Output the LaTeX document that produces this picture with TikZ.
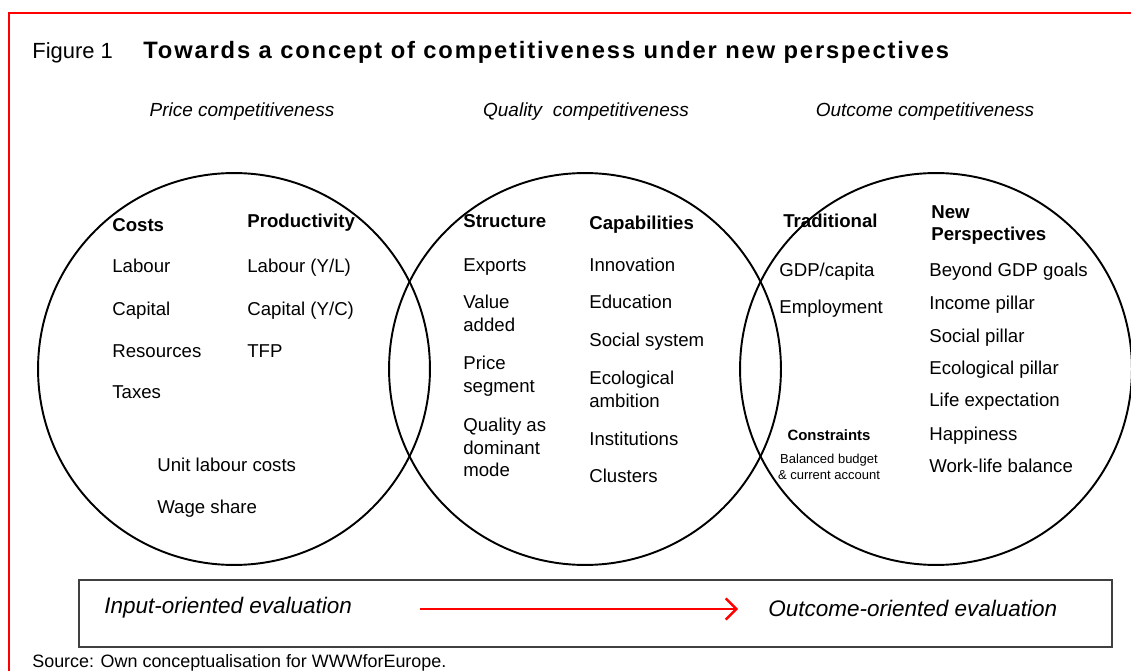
\documentclass[tikz,border=0pt]{standalone}
\usepackage{fontspec}
\setmainfont{Liberation Sans}
\usepackage{tikz}
\usetikzlibrary{arrows.meta}
\usetikzlibrary{positioning}

% one unit = one pixel of the 1131 x 671 layout
\tikzset{
	itemtext/.style={anchor=north west, inner sep=0pt, align=left, font=\fontsize{10.6}{13}\selectfont},
	headtext/.style={itemtext, font=\fontsize{10.6}{13}\selectfont\bfseries},
	perspective/.style={inner sep=0pt, font=\fontsize{10.8}{13}\selectfont\itshape},
	evaltext/.style={anchor=west, inner sep=0pt, font=\fontsize{12.8}{15}\selectfont\itshape},
	ring/.style={draw, circle, line width=1.1pt, minimum size=7.84cm, inner sep=0pt},
}

\begin{document}
\begin{tikzpicture}[x=0.02cm, y=-0.02cm]
				\useasboundingbox (0, 0) rectangle (1131, 671);
				
				% red frame
				\draw[red, line width=1.1pt] (9, 671) -- (9, 13) -- (1131, 13);
				
				% heading
				\node[anchor=base west, inner sep=0pt, font=\fontsize{12.5}{15}\selectfont] (fignum) at (32, 59) {Figure 1};
				\node[anchor=base west, inner sep=0pt, font=\fontsize{13.5}{16}\selectfont\bfseries\addfontfeatures{LetterSpace=7.8}] (figtitle) at (143, 59) {Towards a concept of competitiveness under new perspectives};
				
				\node[perspective] (pricetitle) at (242, 112) {Price competitiveness};
				\node[perspective] (qualitytitle) at (586, 112) {Quality\ \ competitiveness};
				\node[perspective] (outcometitle) at (925, 112) {Outcome competitiveness};
				
				% the three circles
				\node[ring] (pricering) at (234, 369) {};
				\node[ring] (qualityring) at (585, 369) {};
				\node[ring] (outcomering) at (936, 369) {};
				
				% price competitiveness
				\node[headtext] (costs) at (112, 218) {Costs};
				\node[headtext] (productivity) at (247, 214) {Productivity};
				\node[itemtext] (labour) at (112, 259) {Labour};
				\node[itemtext] (capital) at (112, 302) {Capital};
				\node[itemtext] (resources) at (112, 344) {Resources};
				\node[itemtext] (taxes) at (112, 385) {Taxes};
				\node[itemtext] (labourYL) at (247, 259) {Labour (Y/L)};
				\node[itemtext] (capitalYC) at (247, 302) {Capital (Y/C)};
				\node[itemtext] (tfp) at (247, 344) {TFP};
				\node[itemtext] (ulc) at (157, 458) {Unit labour costs};
				\node[itemtext] (wageshare) at (157, 500) {Wage share};
				
				% quality competitiveness
				\node[headtext] (structure) at (463, 214) {Structure};
				\node[headtext] (capabilities) at (589, 216) {Capabilities};
				\node[itemtext] (exports) at (463, 258) {Exports};
				\node[itemtext] (valueadded) at (463, 295) {Value\\added};
				\node[itemtext] (pricesegment) at (463, 356) {Price\\segment};
				\node[itemtext, font=\fontsize{10.6}{12.8}\selectfont] (qualitymode) at (463, 418) {Quality as\\dominant\\mode};
				\node[itemtext] (innovation) at (589, 258) {Innovation};
				\node[itemtext] (education) at (589, 295) {Education};
				\node[itemtext] (socialsystem) at (589, 333) {Social system};
				\node[itemtext] (ecoambition) at (589, 371) {Ecological\\ambition};
				\node[itemtext] (institutions) at (589, 432) {Institutions};
				\node[itemtext] (clusters) at (589, 469) {Clusters};
				
				% outcome competitiveness
				\node[headtext] (traditional) at (783, 214) {Traditional};
				\node[headtext] (newpersp) at (931, 205) {New\\Perspectives};
				\node[itemtext] (gdpcapita) at (779, 263) {GDP/capita};
				\node[itemtext] (employment) at (779, 300) {Employment};
				\node[itemtext] (beyondgdp) at (929, 263) {Beyond GDP goals};
				\node[itemtext] (incomepillar) at (929, 296) {Income pillar};
				\node[itemtext] (socialpillar) at (929, 329) {Social pillar};
				\node[itemtext] (ecopillar) at (929, 361) {Ecological pillar};
				\node[itemtext] (lifeexp) at (929, 393) {Life expectation};
				\node[itemtext] (happiness) at (929, 427) {Happiness};
				\node[itemtext] (worklife) at (929, 459) {Work-life balance};
				\node[inner sep=0pt, font=\fontsize{8.5}{10}\selectfont\bfseries] (constraints) at (829, 435) {Constraints};
				\node[inner sep=0pt, align=center, font=\fontsize{7.4}{9}\selectfont] (budget) at (829, 467) {Balanced budget\\\& current account};
				
				% evaluation bar
				\draw[black!75, line width=0.8pt] (79, 580) rectangle (1112, 647);
				\node[evaltext] (inputeval) at (104, 608) {Input-oriented evaluation};
				\node[evaltext] (outcomeeval) at (768, 608) {Outcome-oriented evaluation};
				\coordinate (evalstart) at (420, 609);
				\coordinate (evalend) at (738, 609);
				\draw[red, line width=1.4pt, -{Straight Barb[length=6pt, width=12pt]}] (evalstart) -- (evalend);
				
				\node[anchor=base west, inner sep=0pt, font=\fontsize{10.2}{12}\selectfont] (source) at (32, 667) {Source: Own conceptualisation for WWWforEurope.};
			\end{tikzpicture}
\end{document}
